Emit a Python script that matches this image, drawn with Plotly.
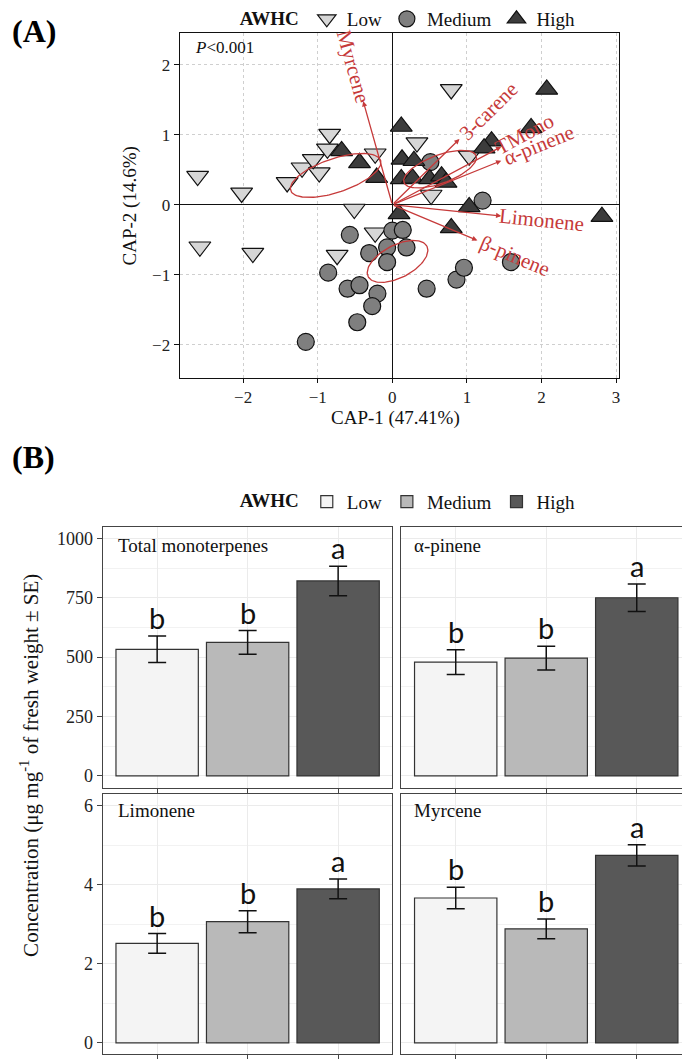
import numpy as np
import plotly.graph_objects as go

W, H = 683, 1059
SERIF = "Liberation Serif"
RED = "#C63A3A"

# ---------------- (A) CAP ordination ----------------
low_x = [-2.61, -2.02, -2.58, -1.87, -1.41, -1.21, -0.98, -1.06, -0.84, -0.87,
         -0.23, 0.33, 0.52, -0.51, -0.23, 1.03, -0.74, 0.79]
low_y = [0.41, 0.17, -0.60, -0.69, 0.32, 0.53, 0.46, 0.65, 1.01, 0.80,
         0.73, 0.89, 0.14, -0.06, -0.40, 0.70, -0.72, 1.65]
med_x = [-0.57, 0.00, 0.14, -0.31, -0.07, 0.19, -0.07, -0.86, -0.60, -0.44,
         -0.20, -0.27, -0.47, -1.16, 0.46, 0.86, 0.96, 1.59, 1.21, 0.51]
med_y = [-0.43, -0.37, -0.36, -0.69, -0.61, -0.61, -0.82, -0.97, -1.20, -1.15,
         -1.27, -1.45, -1.68, -1.96, -1.20, -1.07, -0.90, -0.82, 0.06, 0.61]
high_x = [2.07, 1.86, 1.33, 1.23, 0.12, -0.68, -0.44, -0.21, 0.13, 0.29,
          0.12, 0.27, 0.50, 0.66, 0.72, 0.09, 1.03, 0.79, 2.81]
high_y = [1.65, 1.10, 0.91, 0.81, 1.12, 0.77, 0.60, 0.39, 0.65, 0.63,
          0.37, 0.38, 0.37, 0.41, 0.32, -0.13, -0.03, -0.33, -0.17]

# compound vectors (biplot arrows)
vec_names = ["Myrcene", "3-carene", "TMono", "α-pinene", "Limonene", "β-pinene"]
vec_x = [-0.39, 0.90, 1.46, 1.46, 1.46, 1.14]
vec_y = [1.48, 0.94, 0.83, 0.63, -0.16, -0.51]

# group ellipses: centre, semi-axes, rotation (deg)
ell_cx = [-0.76, 0.07, 0.64]
ell_cy = [0.42, -0.81, 0.51]
ell_a = [0.64, 0.45, 0.52]
ell_b = [0.24, 0.23, 0.20]
ell_angle = [20, 30, 22]

cap_xrange = [-2.85, 3.04]
cap_yrange = [-2.47, 2.46]

# ---------------- (B) concentrations ----------------
levels = ["Low", "Medium", "High"]
bar_colors = ["#F4F4F4", "#B9B9B9", "#585858"]
tm_mean = [533, 562, 821]
tm_se = [56, 50, 62]
tm_letters = ["b", "b", "a"]
ap_mean = [479, 496, 750]
ap_se = [52, 50, 58]
ap_letters = ["b", "b", "a"]
li_mean = [2.52, 3.07, 3.90]
li_se = [0.25, 0.28, 0.25]
li_letters = ["b", "b", "a"]
my_mean = [3.67, 2.89, 4.75]
my_se = [0.27, 0.25, 0.27]
my_letters = ["b", "b", "a"]


def fx(p):
    return p / W


def fy(p):
    return 1 - p / H


fig = go.Figure()

# scatter groups
groups = [
    ("Low", low_x, low_y, "triangle-down", "#D6D6D6", 19),
    ("Medium", med_x, med_y, "circle", "#7F7F7F", 17),
    ("High", high_x, high_y, "triangle-up", "#3C3C3C", 19),
]
for name, gx, gy, sym, col, sz in groups:
    fig.add_trace(go.Scatter(
        x=gx, y=gy, mode="markers", name=name, legend="legend",
        marker=dict(symbol=sym, size=sz, color=col, line=dict(color="#111", width=1.2)),
        xaxis="x", yaxis="y"))

# ellipses
t = np.linspace(0, 2 * np.pi, 120)
for cx, cy, a, b, ang in zip(ell_cx, ell_cy, ell_a, ell_b, ell_angle):
    th = np.radians(ang)
    ex = cx + a * np.cos(t) * np.cos(th) - b * np.sin(t) * np.sin(th)
    ey = cy + a * np.cos(t) * np.sin(th) + b * np.sin(t) * np.cos(th)
    fig.add_trace(go.Scatter(x=ex, y=ey, mode="lines", showlegend=False,
                             line=dict(color=RED, width=1.3), hoverinfo="skip",
                             xaxis="x", yaxis="y"))

annotations = []

# arrows and their labels
domA = [180, 620, 31, 378]
ppx = (domA[1] - domA[0]) / (cap_xrange[1] - cap_xrange[0])
ppy = (domA[3] - domA[2]) / (cap_yrange[1] - cap_yrange[0])
lab_fs = 21
for nm, vx, vy in zip(vec_names, vec_x, vec_y):
    annotations.append(dict(
        x=vx, y=vy, ax=0, ay=0, xref="x", yref="y", axref="x", ayref="y",
        text="", showarrow=True, arrowhead=2, arrowsize=0.8, arrowwidth=1.3,
        arrowcolor=RED, standoff=0))
    dxp, dyp = vx * ppx, -vy * ppy
    n = np.hypot(dxp, dyp)
    ux, uy = dxp / n, dyp / n
    ang = np.degrees(np.arctan(dyp / dxp))
    half = len(nm) * 0.45 * lab_fs / 2
    cxp = dxp + ux * (3 + half)
    cyp = dyp + uy * (3 + half)
    annotations.append(dict(
        x=cxp / ppx, y=-cyp / ppy, xref="x", yref="y", text=nm, showarrow=False,
        textangle=ang, xanchor="center", yanchor="middle",
        font=dict(family=SERIF, size=lab_fs, color=RED)))

# bar panels
panels = [
    ("x2", "y2", "Total monoterpenes", tm_mean, tm_se, tm_letters, True),
    ("x3", "y3", "α-pinene", ap_mean, ap_se, ap_letters, False),
    ("x4", "y4", "Limonene", li_mean, li_se, li_letters, False),
    ("x5", "y5", "Myrcene", my_mean, my_se, my_letters, False),
]
for xa, ya, title, mean, se, letters, show in panels:
    for i, lev in enumerate(levels):
        fig.add_trace(go.Bar(
            x=[i + 1], y=[mean[i]], width=0.91, name=lev, legend="legend2",
            showlegend=show, legendgroup=lev,
            marker=dict(color=bar_colors[i], line=dict(color="#333", width=1.2)),
            error_y=dict(type="data", array=[se[i]], color="#111", thickness=1.5, width=9),
            xaxis=xa, yaxis=ya))
        annotations.append(dict(
            x=i + 1, y=mean[i] + se[i], xref=xa, yref=ya, text=letters[i],
            showarrow=False, yanchor="bottom", yshift=-1,
            font=dict(family="Lato", size=29, color="#111")))

# panel titles inside facets
for (xp, yp, txt) in [(116, 547, "Total monoterpenes"), (413, 547, "α-pinene"),
                      (116, 814, "Limonene"), (413, 814, "Myrcene")]:
    annotations.append(dict(x=fx(xp), y=fy(yp), xref="paper", yref="paper", text=txt,
                            showarrow=False, xanchor="left", yanchor="middle",
                            font=dict(family=SERIF, size=19, color="#111")))

annotations += [
    dict(x=fx(10), y=fy(29), xref="paper", yref="paper", text="<b>(A)</b>", showarrow=False,
         xanchor="left", yanchor="middle", font=dict(family=SERIF, size=32, color="#000")),
    dict(x=fx(10), y=fy(458), xref="paper", yref="paper", text="<b>(B)</b>", showarrow=False,
         xanchor="left", yanchor="middle", font=dict(family=SERIF, size=32, color="#000")),
    dict(x=fx(193), y=fy(46), xref="paper", yref="paper", text="<i>P</i><0.001",
         showarrow=False, xanchor="left", yanchor="middle",
         font=dict(family=SERIF, size=17, color="#111")),
    dict(x=fx(396), y=fy(419), xref="paper", yref="paper", text="CAP-1 (47.41%)",
         showarrow=False, xanchor="center", yanchor="middle",
         font=dict(family=SERIF, size=19, color="#111")),
    dict(x=fx(130), y=fy(205), xref="paper", yref="paper", text="CAP-2 (14.6%)",
         showarrow=False, xanchor="center", yanchor="middle", textangle=-90,
         font=dict(family=SERIF, size=19, color="#111")),
    dict(x=fx(30), y=fy(768), xref="paper", yref="paper",
         text="Concentration (μg mg<sup>-1</sup> of fresh weight ± SE)",
         showarrow=False, xanchor="center", yanchor="middle", textangle=-90,
         font=dict(family=SERIF, size=21, color="#111")),
]

tickA = dict(family=SERIF, size=17, color="#222")
tickB = dict(family=SERIF, size=18, color="#222")

capx = dict(domain=[fx(180), fx(620)], range=cap_xrange, tickvals=[-2, -1, 0, 1, 2, 3],
            showgrid=True, gridcolor="#CFCFCF", griddash="dot", gridwidth=1,
            zeroline=True, zerolinecolor="#111", zerolinewidth=1.3,
            showline=True, mirror=True, linecolor="#111", linewidth=1.3,
            ticks="outside", ticklen=4, tickcolor="#111", tickfont=tickA, anchor="y")
capy = dict(domain=[fy(378), fy(31)], range=cap_yrange, tickvals=[-2, -1, 0, 1, 2],
            showgrid=True, gridcolor="#CFCFCF", griddash="dot", gridwidth=1,
            zeroline=True, zerolinecolor="#111", zerolinewidth=1.3,
            showline=True, mirror=True, linecolor="#111", linewidth=1.3,
            ticks="outside", ticklen=5, tickcolor="#111", tickfont=tickA, anchor="x")


def bar_x(dom, rng, anchor):
    return dict(domain=dom, range=rng, tickvals=[1, 2, 3], showticklabels=False,
                showgrid=True, gridcolor="#EBEBEB", gridwidth=1, zeroline=False,
                showline=True, mirror=True, linecolor="#444", linewidth=1.3,
                ticks="outside", ticklen=5, tickcolor="#444", anchor=anchor)


def bar_y(dom, rng, anchor, vals, minor_dt, labels, mirror):
    return dict(domain=dom, range=rng, tickvals=vals, showticklabels=labels,
                showgrid=True, gridcolor="#EBEBEB", gridwidth=1, zeroline=False,
                minor=dict(showgrid=True, gridcolor="#F2F2F2", gridwidth=0.8, dtick=minor_dt),
                showline=True, mirror=mirror, linecolor="#444", linewidth=1.3,
                ticks="outside" if labels else "", ticklen=5, tickcolor="#444",
                tickfont=tickB, anchor=anchor)


top_rng = [-50, 1050]
bot_rng = [-0.28, 6.31]
left_dom = [fx(103), fx(393)]
right_dom = [fx(402), 1.0]
top_dom = [fy(791), fy(528)]
bot_dom = [0.0, fy(797)]

legend_font = dict(family=SERIF, size=19, color="#111")
legend_title = dict(text="<b>AWHC</b>", font=dict(family=SERIF, size=19, color="#111"))

fig.update_layout(
    width=W, height=H, margin=dict(l=0, r=0, t=0, b=0),
    paper_bgcolor="white", plot_bgcolor="white",
    font=dict(family=SERIF, color="#111"),
    barmode="overlay",
    xaxis=capx, yaxis=capy,
    xaxis2=bar_x(left_dom, [0.4, 3.6], "y2"),
    yaxis2=bar_y(top_dom, top_rng, "x2", [0, 250, 500, 750, 1000], 125, True, True),
    xaxis3=bar_x(right_dom, [0.4, 3.5], "y3"),
    yaxis3=bar_y(top_dom, top_rng, "x3", [0, 250, 500, 750, 1000], 125, False, False),
    xaxis4=bar_x(left_dom, [0.4, 3.6], "y4"),
    yaxis4=bar_y(bot_dom, bot_rng, "x4", [0, 2, 4, 6], 1, True, True),
    xaxis5=bar_x(right_dom, [0.4, 3.5], "y5"),
    yaxis5=bar_y(bot_dom, bot_rng, "x5", [0, 2, 4, 6], 1, False, False),
    legend=dict(orientation="h", x=fx(238), y=fy(17), xanchor="left", yanchor="middle",
                title=legend_title, font=legend_font,
                bgcolor="rgba(0,0,0,0)", itemwidth=30, tracegroupgap=0),
    legend2=dict(orientation="h", x=fx(238), y=fy(503), xanchor="left", yanchor="middle",
                 title=legend_title, font=legend_font,
                 bgcolor="rgba(0,0,0,0)", itemwidth=30, tracegroupgap=0),
    annotations=annotations,
    showlegend=True,
)

fig.write_html("out.html")
